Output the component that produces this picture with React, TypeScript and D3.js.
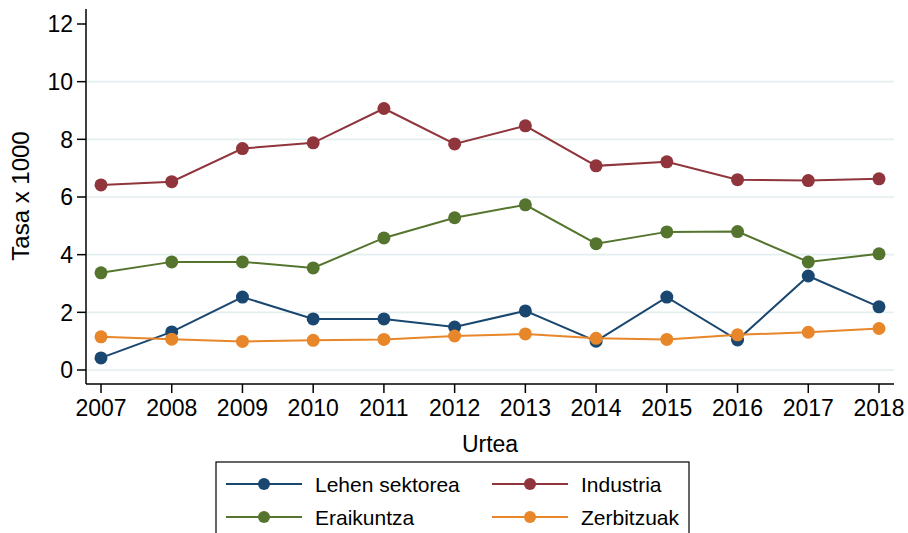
import React from 'react';
import * as d3 from 'd3';

const years = [2007, 2008, 2009, 2010, 2011, 2012, 2013, 2014, 2015, 2016, 2017, 2018];
const lehen = [0.42, 1.32, 2.53, 1.77, 1.77, 1.49, 2.05, 1.0, 2.53, 1.04, 3.26, 2.19];
const industria = [6.42, 6.53, 7.68, 7.88, 9.07, 7.84, 8.47, 7.08, 7.22, 6.6, 6.57, 6.63];
const eraikuntza = [3.37, 3.75, 3.75, 3.54, 4.58, 5.28, 5.73, 4.38, 4.79, 4.8, 3.75, 4.03];
const zerbitzuak = [1.15, 1.07, 0.99, 1.03, 1.06, 1.18, 1.25, 1.1, 1.06, 1.22, 1.31, 1.44];
const yTicks = [0, 2, 4, 6, 8, 10, 12];
const seriesNames = ['Lehen sektorea', 'Industria', 'Eraikuntza', 'Zerbitzuak'];
const seriesColors = ['#1a476f', '#90353b', '#55752f', '#e8862a'];

const W = 908, H = 533;
const left = 86, right = 894, top = 9, bottom = 384;
const font = 'Liberation Sans, Arial, Helvetica, sans-serif';

export default function App() {
  const x = d3.scaleLinear().domain([2007, 2018]).range([101, 879]);
  const y = d3.scaleLinear().domain([0, 12]).range([370, 24]);
  const line = d3.line<[number, number]>().x(d => x(d[0])).y(d => y(d[1]));
  const data = [lehen, industria, eraikuntza, zerbitzuak];
  const order = [1, 2, 0, 3];
  const legendItems = [
    { i: 0, lx: 226, ty: 484 },
    { i: 1, lx: 492, ty: 484 },
    { i: 2, lx: 226, ty: 517 },
    { i: 3, lx: 492, ty: 517 },
  ];
  return (
    <svg width={W} height={H} style={{ position: 'absolute', left: 0, top: 0, background: '#fff' }} fontFamily={font}>
      <rect x={0} y={0} width={W} height={H} fill="#fff" />
      {yTicks.filter(t => t !== 12).map(t => (
        <line key={'g' + t} x1={left} x2={right} y1={y(t)} y2={y(t)} stroke="#e3eeef" strokeWidth={1.6} />
      ))}
      {order.map(k => (
        <g key={'s' + k}>
          <path d={line(years.map((yr, j) => [yr, data[k][j]]))!} fill="none" stroke={seriesColors[k]} strokeWidth={2} />
          {years.map((yr, j) => (
            <circle key={j} cx={x(yr)} cy={y(data[k][j])} r={6.5} fill={seriesColors[k]} />
          ))}
        </g>
      ))}
      <line x1={left} x2={left} y1={top} y2={bottom} stroke="#000" strokeWidth={1.5} />
      <line x1={left} x2={right} y1={bottom} y2={bottom} stroke="#000" strokeWidth={1.5} />
      {yTicks.map(t => (
        <g key={'y' + t}>
          <line x1={left - 9} x2={left} y1={y(t)} y2={y(t)} stroke="#000" strokeWidth={1.5} />
          <text x={73} y={y(t)} dy="0.36em" textAnchor="end" fontSize={23}>{t}</text>
        </g>
      ))}
      {years.map(yr => (
        <g key={'x' + yr}>
          <line x1={x(yr)} x2={x(yr)} y1={bottom} y2={bottom + 9} stroke="#000" strokeWidth={1.5} />
          <text x={x(yr)} y={416} textAnchor="middle" fontSize={23}>{yr}</text>
        </g>
      ))}
      <text x={490} y={452} textAnchor="middle" fontSize={23}>Urtea</text>
      <text transform={`translate(29,196) rotate(-90)`} textAnchor="middle" fontSize={24}>Tasa x 1000</text>
      <rect x={216} y={462} width={473} height={90} fill="#fff" stroke="#000" strokeWidth={1.2} />
      {legendItems.map(({ i, lx, ty }) => (
        <g key={'l' + i}>
          <line x1={lx} x2={lx + 76} y1={ty} y2={ty} stroke={seriesColors[i]} strokeWidth={2} />
          <circle cx={lx + 38} cy={ty} r={6} fill={seriesColors[i]} />
          <text x={lx + 89} y={ty} dy="0.36em" fontSize={21}>{seriesNames[i]}</text>
        </g>
      ))}
    </svg>
  );
}
